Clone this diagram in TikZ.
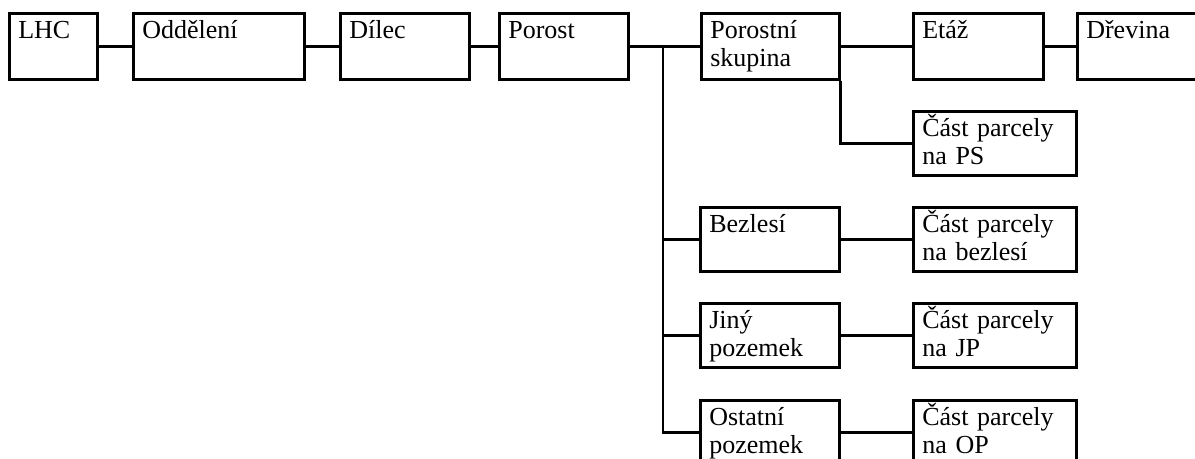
\documentclass[tikz,border=0pt]{standalone}
\usepackage{fontspec}
\setmainfont{Liberation Serif}
\usepackage{tikz}
\usetikzlibrary{positioning,calc}
\newcommand{\boxfont}{\fontsize{13}{14}\selectfont}
\tikzset{
    boxsty/.style={draw,line width=1.3pt,rectangle,anchor=north west,align=left,
                   inner xsep=4.5pt,inner ysep=0pt,text height=12.5pt,text depth=20.5pt,font=\boxfont},
    lowsty/.style={boxsty,text depth=19.5pt},
    linesty/.style={line width=1.3pt},
}
\begin{document}
\begin{tikzpicture}[x=0.5pt,y=-0.5pt]
  \useasboundingbox (0,0) rectangle (1195,459);
  \clip (0,0) rectangle (1195,459);

  % top row
  \node[boxsty,text width=35pt]   (lhc) at (8,12)    {LHC};
  \node[boxsty,text width=76.5pt] (odd) at (132,12)  {Oddělení};
  \node[boxsty,text width=55.5pt] (dil) at (339,12)  {Dílec};
  \node[boxsty,text width=55.5pt] (por) at (498,12)  {Porost};
  \node[boxsty,text width=60pt]   (psk) at (700,12)  {Porostní\\skupina};
  \node[boxsty,text width=56pt]   (eta) at (912,12)  {Etáž};
  \node[boxsty,text width=61pt]   (dre) at (1076,12) {Dřevina};

  % lower rows
  \node[lowsty,text width=72.5pt] (cps) at (912,110) {Část parcely\\na PS};
  \node[lowsty,text width=60.5pt] (bez) at (699,206) {Bezlesí};
  \node[lowsty,text width=72.5pt] (cbz) at (912,206) {Část parcely\\na bezlesí};
  \node[lowsty,text width=60.5pt] (jin) at (699,302) {Jiný\\pozemek};
  \node[lowsty,text width=72.5pt] (cjp) at (912,302) {Část parcely\\na JP};
  \node[lowsty,text width=60.5pt] (ost) at (699,399) {Ostatní\\pozemek};
  \node[lowsty,text width=72.5pt] (cop) at (912,399) {Část parcely\\na OP};

  \coordinate (br) at (663,45);

  \draw[linesty] (lhc.east) -- (odd.west);
  \draw[linesty] (odd.east) -- (dil.west);
  \draw[linesty] (dil.east) -- (por.west);
  \draw[linesty] (por.east) -- (psk.west);
  \draw[linesty] (psk.east) -- (eta.west);
  \draw[linesty] (eta.east) -- (dre.west);
  \draw[linesty] (psk.south east) |- (cps.west);

  \draw[linesty] (br) |- (ost.west);
  \draw[linesty] (br |- bez.west) -- (bez.west);
  \draw[linesty] (br |- jin.west) -- (jin.west);

  \draw[linesty] (bez.east) -- (cbz.west);
  \draw[linesty] (jin.east) -- (cjp.west);
  \draw[linesty] (ost.east) -- (cop.west);
\end{tikzpicture}
\end{document}
